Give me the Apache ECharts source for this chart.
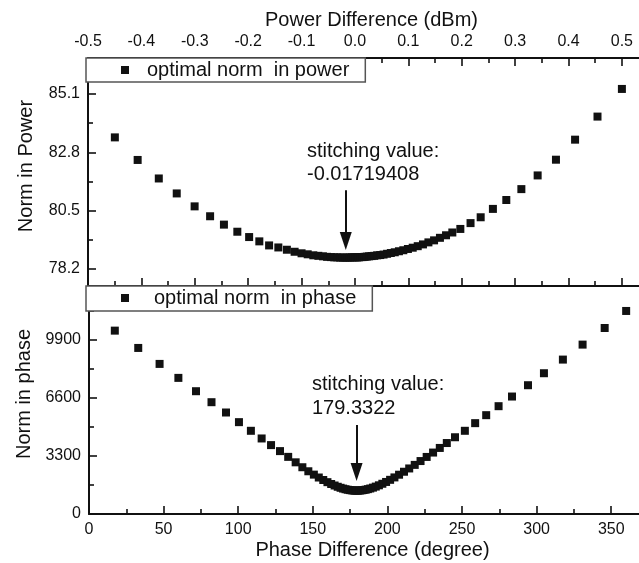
<!DOCTYPE html>
<html><head><meta charset="utf-8">
<script src="https://cdn.jsdelivr.net/npm/echarts@6/dist/echarts.min.js"></script>
<style>html,body{margin:0;padding:0;background:#fff}#c{width:639px;height:563px}</style>
</head><body><div id="c"></div>
<script>
// ---- data ----
const powerX = [-0.4497, -0.4070, -0.3674, -0.3338, -0.3003, -0.2713, -0.2454, -0.2203, -0.1982, -0.1791, -0.1608,
  -0.1435, -0.1275, -0.1130, -0.1000, -0.0885, -0.0780, -0.0685, -0.0600, -0.0522, -0.0452, -0.0388, -0.0330, -0.0276,
  -0.0226, -0.0180, -0.0137, -0.0097, -0.0060, -0.0025, 0.0008, 0.0040,
  0.0072, 0.0106, 0.0142, 0.0180, 0.0221, 0.0265, 0.0312, 0.0362, 0.0416, 0.0474, 0.0536, 0.0602, 0.0672, 0.0746,
  0.0824, 0.0906, 0.0992, 0.1082, 0.1176, 0.1274, 0.1376, 0.1482, 0.1592, 0.1706, 0.1824,
  0.1974, 0.2165, 0.2355, 0.2584, 0.2835, 0.3117, 0.3422, 0.3765, 0.4123, 0.4543, 0.5000];
const powerNorm = [83.39, 82.50, 81.77, 81.18, 80.67, 80.28, 79.95, 79.67, 79.46, 79.29, 79.13,
  79.05, 78.96, 78.88, 78.82, 78.78, 78.74, 78.72, 78.70, 78.68, 78.67, 78.66, 78.66, 78.65,
  78.65, 78.65, 78.65, 78.65, 78.66, 78.66, 78.66, 78.66,
  78.66, 78.67, 78.67, 78.68, 78.69, 78.70, 78.71, 78.72, 78.74, 78.75, 78.77, 78.80, 78.83, 78.86,
  78.90, 78.94, 78.99, 79.04, 79.10, 79.17, 79.25, 79.33, 79.43, 79.53, 79.64,
  79.78, 80.01, 80.24, 80.57, 80.92, 81.35, 81.89, 82.51, 83.30, 84.21, 85.30];

const phaseX = [17.3, 33.0, 47.3, 59.9, 71.7, 82.1, 91.8, 100.5, 108.5, 115.7, 122.0, 128.0, 133.5,
  138.5, 143.0, 147.0, 150.7, 154.0, 157.0, 159.8, 162.3, 164.6, 166.7, 168.6, 170.3, 171.9, 173.4, 174.8, 176.1, 177.3, 178.4, 179.4,
  180.4, 181.5, 182.7, 184.0, 185.4, 186.9, 188.5, 190.3, 192.2, 194.3, 196.6, 199.1, 201.8, 204.7, 207.8, 211.1, 214.6, 218.3,
  222.2, 226.3, 230.6, 235.1, 239.8, 245.3,
  251.9, 258.8, 266.2, 274.5, 283.5, 294.2, 304.9, 317.6, 330.8, 345.6, 360.0];
const phaseNorm = [10431, 9446, 8538, 7743, 6985, 6360, 5774, 5225, 4733, 4297, 3919, 3578, 3250,
  2940, 2660, 2431, 2240, 2076, 1935, 1811, 1708, 1621, 1549, 1491, 1446, 1409, 1381, 1360, 1345, 1336, 1331, 1330,
  1332, 1337, 1347, 1363, 1384, 1414, 1451, 1500, 1559, 1632, 1720, 1823, 1944, 2081, 2235, 2404, 2591, 2794,
  3012, 3246, 3495, 3758, 4037, 4366,
  4733, 5168, 5622, 6133, 6682, 7326, 8008, 8784, 9636, 10582, 11550];

const powerTicks = [-0.5, -0.4, -0.3, -0.2, -0.1, 0.0, 0.1, 0.2, 0.3, 0.4, 0.5];
const phaseTicks = [0, 50, 100, 150, 200, 250, 300, 350];
const normPowerTicks = [78.2, 80.5, 82.8, 85.1];
const normPowerMinor = [79.35, 81.65, 83.95, 86.25];
const normPhaseTicks = [0, 3300, 6600, 9900];
const normPhaseMinor = [1650, 4950, 8250, 11550];

const stitchPower = -0.01719408;
const stitchPhase = 179.3322;
const powerName = 'optimal norm  in power';
const phaseName = 'optimal norm  in phase';

// ---- chart ----
const FONT = 'Liberation Sans, Arial, sans-serif';
const INK = '#111';
const pts = (xs, ys) => xs.map((x, i) => [x, ys[i]]);
const chart = echarts.init(document.getElementById('c'), null, {renderer: 'canvas'});

const lbl = (extra) => Object.assign({color: INK, fontFamily: FONT, fontSize: 16}, extra || {});
const line = {show: true, onZero: false, lineStyle: {color: INK, width: 2}};
const tick = (len, vals) => {
  const t = {show: true, inside: true, length: len, lineStyle: {color: INK, width: 1.6}};
  if (vals) t.customValues = vals;
  return t;
};

const powerAxisBase = {
  type: 'value', min: powerTicks[0], max: 0.562, interval: +(powerTicks[1] - powerTicks[0]).toFixed(3),
  axisLine: line, splitLine: {show: false},
  axisTick: tick(8),
  minorTick: {show: true, splitNumber: 2, length: 5, lineStyle: {color: INK, width: 1.6}},
  minorSplitLine: {show: false}
};

const arrowHead = (x, y) => ({
  silent: true, label: {show: false},
  data: [{coord: [x, y], symbol: 'triangle', symbolSize: [12, 18], symbolRotate: 180, itemStyle: {color: INK, opacity: 1}}]
});
const arrowShaft = (x, y0, y1) => ({
  silent: true, symbol: ['none', 'none'], label: {show: false},
  lineStyle: {color: INK, width: 2, type: 'solid', opacity: 1},
  data: [[{coord: [x, y0]}, {coord: [x, y1]}]]
});

const gridBase = {outerBoundsMode: 'none', containLabel: false};
const option = {
  animation: false,
  backgroundColor: '#fff',
  grid: [
    Object.assign({left: 88, top: 58, width: 567, height: 228}, gridBase),
    Object.assign({left: 89, top: 286, width: 567, height: 228}, gridBase),
    Object.assign({left: 88, top: 58, width: 567, height: 228}, gridBase),
    Object.assign({left: 89, top: 286, width: 567, height: 228}, gridBase)
  ],
  xAxis: [
    Object.assign({}, powerAxisBase, {
      gridIndex: 0, position: 'top',
      name: 'Power Difference (dBm)', nameLocation: 'middle', nameGap: 28,
      nameTextStyle: lbl({fontSize: 20}),
      axisLabel: lbl({margin: 8, showMaxLabel: false,
        formatter: v => (Math.abs(v) < 1e-9 ? 0 : v).toFixed(1)})
    }),
    Object.assign({}, powerAxisBase, {
      gridIndex: 0, position: 'bottom', axisLabel: {show: false}
    }),
    {
      type: 'value', gridIndex: 1, position: 'bottom', min: phaseTicks[0], max: 380,
      interval: phaseTicks[1] - phaseTicks[0],
      name: 'Phase Difference (degree)', nameLocation: 'middle', nameGap: 26,
      nameTextStyle: lbl({fontSize: 20}),
      axisLine: line, splitLine: {show: false},
      axisTick: tick(8),
      minorTick: {show: true, splitNumber: 2, length: 5, lineStyle: {color: INK, width: 1.6}},
      axisLabel: lbl({margin: 8, showMaxLabel: false, formatter: v => String(v)})
    },
    {type: 'value', gridIndex: 2, show: false},
    {type: 'value', gridIndex: 3, show: false}
  ],
  yAxis: [
    {
      type: 'value', gridIndex: 0, position: 'left', min: 77.53, max: 86.52,
      name: 'Norm in Power', nameLocation: 'middle', nameGap: 52,
      nameTextStyle: lbl({fontSize: 20, padding: [0, 0, 0, 12]}),
      axisLine: line, splitLine: {show: false},
      axisTick: tick(8, normPowerTicks),
      axisLabel: lbl({margin: 8, customValues: normPowerTicks, formatter: v => v.toFixed(1)})
    },
    {
      type: 'value', gridIndex: 1, position: 'left', min: 0, max: 12970,
      name: 'Norm in phase', nameLocation: 'middle', nameGap: 52,
      nameTextStyle: lbl({fontSize: 20, padding: [0, 0, 0, 12]}),
      axisLine: line, splitLine: {show: false},
      axisTick: tick(8, normPhaseTicks),
      axisLabel: lbl({margin: 8, customValues: normPhaseTicks, formatter: v => String(v)})
    },
    {
      type: 'value', gridIndex: 2, position: 'left', min: 77.53, max: 86.52,
      axisLine: {show: false, onZero: false}, splitLine: {show: false},
      axisTick: tick(5, normPowerMinor),
      axisLabel: {show: false, customValues: normPowerMinor}
    },
    {
      type: 'value', gridIndex: 3, position: 'left', min: 0, max: 12970,
      axisLine: {show: false, onZero: false}, splitLine: {show: false},
      axisTick: tick(5, normPhaseMinor),
      axisLabel: {show: false, customValues: normPhaseMinor}
    }
  ],
  legend: [
    {
      data: [powerName], left: 86, top: 58, orient: 'horizontal', selectedMode: false,
      icon: 'rect', itemWidth: 8, itemHeight: 8,
      padding: [2, 16, 2, 35], backgroundColor: '#fff', borderColor: '#555', borderWidth: 1.5, borderRadius: 0,
      textStyle: lbl({fontSize: 20, padding: [0, 0, 0, 13]})
    },
    {
      data: [phaseName], left: 86, top: 286, orient: 'horizontal', selectedMode: false,
      icon: 'rect', itemWidth: 8, itemHeight: 8,
      padding: [2, 16, 3, 35], backgroundColor: '#fff', borderColor: '#555', borderWidth: 1.5, borderRadius: 0,
      textStyle: lbl({fontSize: 20, padding: [0, 0, 0, 20]})
    }
  ],
  graphic: [
    {type: 'text', left: 307, top: 141, style: {text: 'stitching value:', font: '20px ' + FONT, fill: INK}},
    {type: 'text', left: 307, top: 164, style: {text: String(stitchPower), font: '20px ' + FONT, fill: INK}},
    {type: 'text', left: 312, top: 374, style: {text: 'stitching value:', font: '20px ' + FONT, fill: INK}},
    {type: 'text', left: 312, top: 398, style: {text: String(stitchPhase), font: '20px ' + FONT, fill: INK}}
  ],
  series: [
    {
      name: powerName, type: 'scatter', xAxisIndex: 0, yAxisIndex: 0,
      symbol: 'rect', symbolSize: 8, itemStyle: {color: INK, opacity: 1},
      data: pts(powerX, powerNorm), silent: true,
      markLine: arrowShaft(stitchPower, 81.31, 79.4),
      markPoint: arrowHead(stitchPower, 79.30)
    },
    {
      name: phaseName, type: 'scatter', xAxisIndex: 2, yAxisIndex: 1,
      symbol: 'rect', symbolSize: 8, itemStyle: {color: INK, opacity: 1},
      data: pts(phaseX, phaseNorm), silent: true,
      markLine: arrowShaft(stitchPhase, 5063, 2500),
      markPoint: arrowHead(stitchPhase, 2389)
    }
  ]
};
chart.setOption(option);
</script>
</body></html>
